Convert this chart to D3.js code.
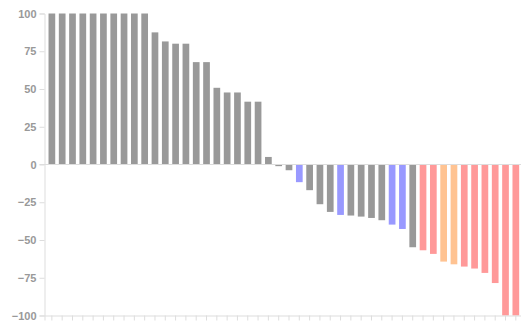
<!DOCTYPE html>
<html>
<head>
<meta charset="utf-8">
<script src="https://cdn.jsdelivr.net/npm/d3@7"></script>
<style>
  html, body { margin: 0; padding: 0; background: #fff; }
  svg { display: block; }
</style>
</head>
<body>
<svg id="chart" width="521" height="321"></svg>
<script>
// Percent change per subject, sorted from best to worst response
const values = [
  100, 100, 100, 100, 100, 100, 100, 100, 100, 100,
  87.5, 81.5, 80, 80, 67.8, 67.8, 50.8, 47.7, 47.7, 41.6,
  41.6, 5, -1.1, -3.8, -11.7, -17, -26.3, -31.4, -33.4, -33.8,
  -34.5, -35.4, -36.9, -39.8, -42.7, -54.8, -56.8, -59.2, -64.3, -66.1,
  -67.6, -68.9, -71.8, -78.5, -100, -100
];

// Response group of each subject
const groups = [
  "n", "n", "n", "n", "n", "n", "n", "n", "n", "n",
  "n", "n", "n", "n", "n", "n", "n", "n", "n", "n",
  "n", "n", "n", "n", "b", "n", "n", "n", "b", "n",
  "n", "n", "n", "b", "b", "n", "r", "r", "o", "o",
  "r", "r", "r", "r", "r", "r"
];

const categories = values.map((_, i) => "S" + (i + 1));
const yTicks = [-100, -75, -50, -25, 0, 25, 50, 75, 100];

const colorOf = { n: "#999999", b: "#9999ff", r: "#ff9999", o: "#ffc392" };

const svg = d3.select("#chart");
const axisColor = "#dddddd";
const textColor = "#999999";

const x0 = 44.5;
const y = d3.scaleLinear().domain([-100, 100]).range([315.5, 13.5]);

const x = d3.scaleBand()
  .domain(categories)
  .range([x0, x0 + 10.31 * (46 - 0.35 + 2 * 0.39)])
  .paddingInner(0.35)
  .paddingOuter(0.39);

// bars
svg.append("g")
  .selectAll("rect")
  .data(values)
  .join("rect")
  .attr("x", (d, i) => x(categories[i]))
  .attr("width", x.bandwidth())
  .attr("y", d => y(Math.max(0, d)))
  .attr("height", d => Math.abs(y(d) - y(0)))
  .attr("fill", (d, i) => colorOf[groups[i]]);

// zero line
svg.append("line")
  .attr("x1", x0 - 5).attr("x2", 521)
  .attr("y1", y(0)).attr("y2", y(0))
  .attr("stroke", axisColor).attr("stroke-width", 1);

// y axis
const yAxis = svg.append("g")
  .attr("transform", `translate(${x0},0)`)
  .call(d3.axisLeft(y).tickValues(yTicks).tickSize(5).tickPadding(3));
yAxis.select(".domain").attr("stroke", axisColor);
yAxis.selectAll(".tick line").attr("stroke", axisColor);
yAxis.selectAll(".tick text")
  .attr("fill", textColor)
  .attr("font-family", "Liberation Sans, Arial, sans-serif")
  .attr("font-size", 11)
  .attr("font-weight", "bold");

// x axis (ticks only)
const xAxis = svg.append("g")
  .attr("transform", `translate(0,${y(-100)})`)
  .call(d3.axisBottom(x).tickSize(5).tickFormat(() => ""));
xAxis.select(".domain").attr("stroke", axisColor);
xAxis.selectAll(".tick line").attr("stroke", axisColor);
</script>
</body>
</html>
